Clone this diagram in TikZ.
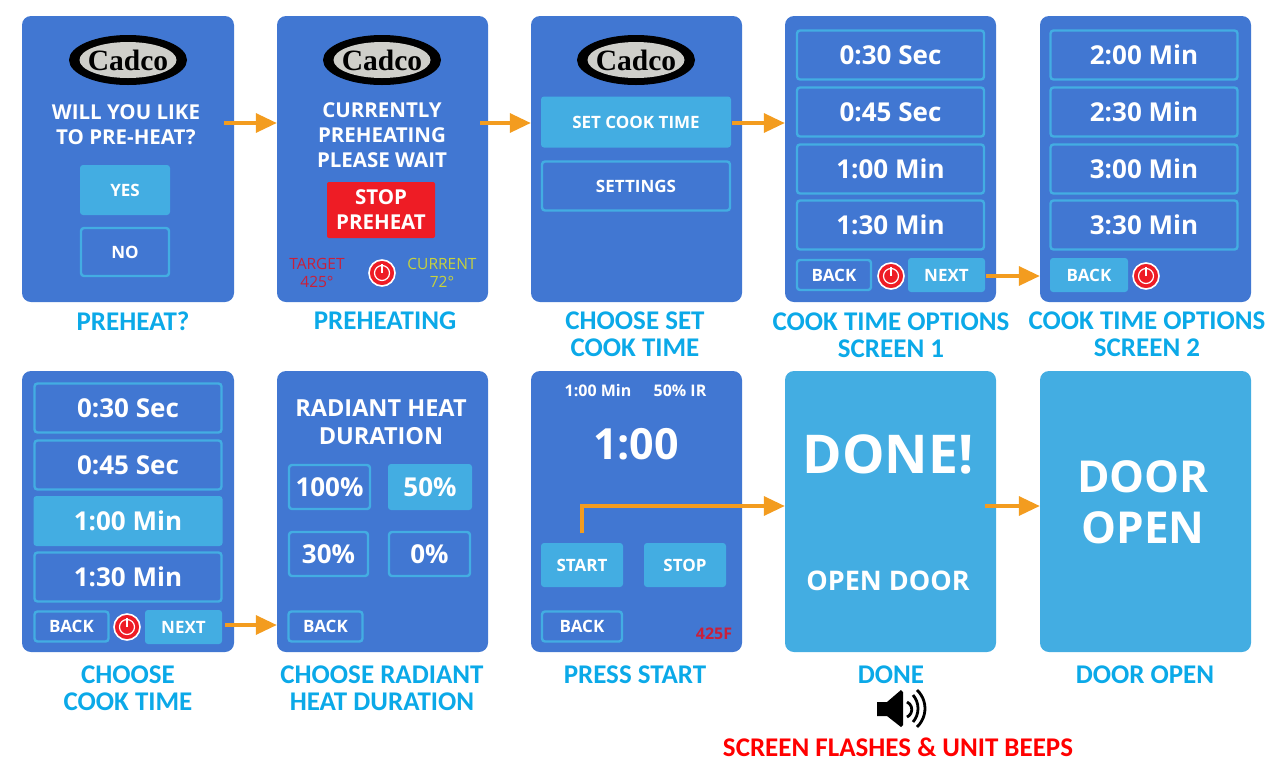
\documentclass[tikz,border=0pt]{standalone}
\usepackage{fontspec}
\setmainfont{Open Sans}
\newfontfamily\capfont{Carlito}
\newfontfamily\logofont{Liberation Serif}
\usepackage{tikz}
\usetikzlibrary{arrows.meta,calc,positioning,shapes.geometric}
\definecolor{screenblue}{HTML}{4177D2}
\definecolor{btnblue}{HTML}{43ADE2}
\definecolor{capblue}{HTML}{0BA9E8}
\definecolor{flowgold}{HTML}{F39C1F}
\definecolor{stopred}{HTML}{EE1C25}
\definecolor{dimred}{HTML}{C9203A}
\definecolor{dimyellow}{HTML}{C8D23C}
\definecolor{logogray}{HTML}{CFCFCA}
\tikzset{
screen/.style={fill=screenblue,rounded corners=9pt,inner sep=0pt,minimum width=#1},
screen/.default=212pt,
lightscreen/.style={fill=btnblue,rounded corners=9pt,inner sep=0pt,minimum width=211pt},
btnfill/.style={fill=btnblue,rounded corners=3pt,inner sep=0pt,text=white,font=\bfseries\fontsize{17}{17}\selectfont},
btnline/.style={draw=btnblue,line width=2.4pt,rounded corners=3pt,inner sep=0pt,text=white,font=\bfseries\fontsize{17}{17}\selectfont},
timebtn/.style={btnline,font=\bfseries\fontsize{26}{26}\selectfont,minimum width=187pt,minimum height=49pt},
backbtn/.style={btnline,minimum width=74pt,minimum height=30pt},
msg/.style={text=white,inner sep=0pt,align=center,font=\bfseries\fontsize{20.5}{25}\selectfont},
caption/.style={text=capblue,inner sep=0pt,align=center,font=\capfont\bfseries\fontsize{27}{27}\selectfont},
flow/.style={draw=flowgold,line width=3.4pt,-{Triangle[length=21pt,width=19pt]}},
small/.style={inner sep=0pt,align=center,font=\fontsize{15.5}{18}\selectfont}
}
\newcommand{\cadcologo}[2]{
\node[ellipse,fill=black,minimum width=118pt,minimum height=50pt,inner sep=0pt] (#1) at (#2) {};
\node[ellipse,fill=logogray,minimum width=97pt,minimum height=36pt,inner sep=0pt] (#1inner) at (#2) {};
\node[inner sep=0pt,font=\logofont\bfseries\fontsize{29.5}{29.5}\selectfont] (#1text) at (#2) {Cadco};
}
\newcommand{\powerbtn}[2]{
\node[circle,fill=stopred,draw=white,line width=1.6pt,minimum size=26pt,inner sep=0pt] (#1) at (#2) {};
\draw[white,line width=1.2pt] (#1.center) circle (7.5pt);
\draw[white,line width=1.4pt] (#1.center) -- ($(#1.center)+(0,-9)$);
}
\begin{document}
\begin{tikzpicture}[x=1pt,y=-1pt]
\useasboundingbox (0,0) rectangle (1274,772);
%screens top row
\node[screen,minimum height=286pt] (preheat) at (128,159) {};
\node[screen=211pt,minimum height=286pt] (preheating) at (382.5,159) {};
\node[screen=211pt,minimum height=286pt] (choose) at (636.5,159) {};
\node[screen=211pt,minimum height=286pt] (optionsa) at (890.5,159) {};
\node[screen=211pt,minimum height=286pt] (optionsb) at (1145.5,159) {};
%screens bottom row
\node[screen,minimum height=281pt] (cooktime) at (128,511.5) {};
\node[screen=211pt,minimum height=281pt] (radiant) at (382.5,511.5) {};
\node[screen=211pt,minimum height=281pt] (start) at (636.5,511.5) {};
\node[lightscreen,minimum height=281pt] (done) at (890.5,511.5) {};
\node[lightscreen,minimum height=281pt] (door) at (1145.5,511.5) {};
%preheat?
\cadcologo{logoa}{128,60}
\node[msg] (likemsg) at (126,125) {WILL YOU LIKE\\TO PRE-HEAT?};
\node[btnfill,minimum width=90pt,minimum height=50pt] (yes) at (125,190) {YES};
\node[btnline,minimum width=88pt,minimum height=48pt] (no) at (125,252) {NO};
%preheating
\cadcologo{logob}{382,60}
\node[msg] (waitmsg) at (382,135) {CURRENTLY\\PREHEATING\\PLEASE WAIT};
\node[fill=stopred,rounded corners=2pt,minimum width=108pt,minimum height=56pt,inner sep=0pt,msg] (stoppre) at (381,210) {STOP\\PREHEAT};
\node[small,text=dimred] (target) at (317,273) {TARGET\\425\textdegree};
\node[small,text=dimyellow] (current) at (442,273) {CURRENT\\72\textdegree};
\powerbtn{powerb}{382,273}
%choose set
\cadcologo{logoc}{636,60}
\node[btnfill,minimum width=190pt,minimum height=51pt] (setcook) at (636,122) {SET COOK TIME};
\node[btnline,minimum width=188pt,minimum height=49pt] (settings) at (636,186) {SETTINGS};
%options 1
\node[timebtn] (ta) at (890.5,55) {0:30 Sec};
\node[timebtn] (tb) at (890.5,112) {0:45 Sec};
\node[timebtn] (tc) at (890.5,169) {1:00 Min};
\node[timebtn] (td) at (890.5,225) {1:30 Min};
\node[backbtn] (backa) at (834,275) {BACK};
\powerbtn{powera}{891,276}
\node[btnfill,minimum width=77pt,minimum height=34pt] (nexta) at (946.5,275) {NEXT};
%options 2
\node[timebtn] (te) at (1144,55) {2:00 Min};
\node[timebtn] (tf) at (1144,112) {2:30 Min};
\node[timebtn] (tg) at (1144,169) {3:00 Min};
\node[timebtn] (th) at (1144,225) {3:30 Min};
\node[btnfill,minimum width=78pt,minimum height=34pt] (backb) at (1089,275) {BACK};
\powerbtn{powerc}{1146,276}
%cook time
\node[timebtn] (ti) at (128,408) {0:30 Sec};
\node[timebtn] (tj) at (128,465) {0:45 Sec};
\node[btnfill,font=\bfseries\fontsize{26}{26}\selectfont,minimum width=189pt,minimum height=50pt] (tk) at (128,521) {1:00 Min};
\node[timebtn] (tl) at (128,577) {1:30 Min};
\node[backbtn] (backc) at (71.5,626.5) {BACK};
\powerbtn{powerd}{127,627}
\node[btnfill,minimum width=77pt,minimum height=34pt] (nextb) at (183.5,627) {NEXT};
%radiant
\node[msg,font=\bfseries\fontsize{23.5}{28}\selectfont] (radmsg) at (381,422) {RADIANT HEAT\\DURATION};
\node[btnline,font=\bfseries\fontsize{26}{26}\selectfont,minimum width=81pt,minimum height=44pt] (pa) at (329.5,487) {100\%};
\node[btnfill,font=\bfseries\fontsize{26}{26}\selectfont,minimum width=84pt,minimum height=46pt] (pb) at (430,487) {50\%};
\node[btnline,font=\bfseries\fontsize{26}{26}\selectfont,minimum width=79pt,minimum height=44pt] (pc) at (328.5,554) {30\%};
\node[btnline,font=\bfseries\fontsize{26}{26}\selectfont,minimum width=81pt,minimum height=44pt] (pd) at (429.5,554) {0\%};
\node[backbtn] (backd) at (325.5,626.5) {BACK};
%press start
\node[small,text=white,font=\bfseries\fontsize{16}{16}\selectfont] (mintxt) at (598,391) {1:00 Min};
\node[small,text=white,font=\bfseries\fontsize{16}{16}\selectfont] (irtxt) at (680,391) {50\% IR};
\node[msg,font=\bfseries\fontsize{43}{43}\selectfont] (clock) at (636,444) {1:00};
\node[btnfill,minimum width=82pt,minimum height=44pt] (startbtn) at (582,565) {START};
\node[btnfill,minimum width=82pt,minimum height=44pt] (stopbtn) at (685,565) {STOP};
\node[backbtn,minimum width=80pt] (backe) at (582,626.5) {BACK};
\node[small,text=dimred,font=\bfseries\fontsize{16}{16}\selectfont] (tempf) at (714,634) {425F};
%done
\node[msg,font=\bfseries\fontsize{53.5}{53.5}\selectfont] (donetxt) at (888,454) {DONE!};
\node[msg,font=\bfseries\fontsize{27}{27}\selectfont] (opentxt) at (888,581) {OPEN DOOR};
\node[msg,font=\bfseries\fontsize{44}{51}\selectfont] (doortxt) at (1143,502) {DOOR\\OPEN};
%captions
\node[caption] (capa) at (133,321) {PREHEAT?};
\node[caption] (capb) at (385,321) {PREHEATING};
\node[caption] (capc) at (635,334.5) {CHOOSE SET\\COOK TIME};
\node[caption] (capd) at (891,335.5) {COOK TIME OPTIONS\\SCREEN 1};
\node[caption] (cape) at (1147,334.5) {COOK TIME OPTIONS\\SCREEN 2};
\node[caption] (capf) at (128,688.5) {CHOOSE\\COOK TIME};
\node[caption] (capg) at (382,688.5) {CHOOSE RADIANT\\HEAT DURATION};
\node[caption] (caph) at (635,675) {PRESS START};
\node[caption] (capi) at (891,675) {DONE};
\node[caption] (capj) at (1145,675) {DOOR OPEN};
\node[caption,text=red] (capk) at (898,747) {SCREEN FLASHES \& UNIT BEEPS};
%speaker
\fill[black] (877,702) -- (887,702) -- (901,690) -- (903,692) -- (903,725) -- (901,727) -- (887,716) -- (877,716) -- cycle;
\draw[black,line width=2.8pt] (907,702) arc (-65:65:8.3);
\draw[black,line width=2.8pt] (913,695) arc (-40.7:40.7:20.7);
\draw[black,line width=2.8pt] (917,690) arc (-46.7:46.7:25.4);
%arrows
\coordinate (flowa) at (224,123);
\coordinate (flowb) at (480,123);
\coordinate (flowc) at (732,123);
\coordinate (flowd) at (986,276);
\coordinate (flowe) at (225,625);
\coordinate (flowf) at (582,533);
\coordinate (flowg) at (985,506);
\draw[flow] (flowa) -- (flowa -| preheating.west);
\draw[flow] (flowb) -- (flowb -| choose.west);
\draw[flow] (flowc) -- (flowc -| optionsa.west);
\draw[flow] (flowd) -- (flowd -| optionsb.west);
\draw[flow] (flowe) -- (flowe -| radiant.west);
\draw[flow] (flowf) |- (flowg -| done.west) ;
\draw[flow] (flowg) -- (flowg -| door.west);
\end{tikzpicture}
\end{document}
